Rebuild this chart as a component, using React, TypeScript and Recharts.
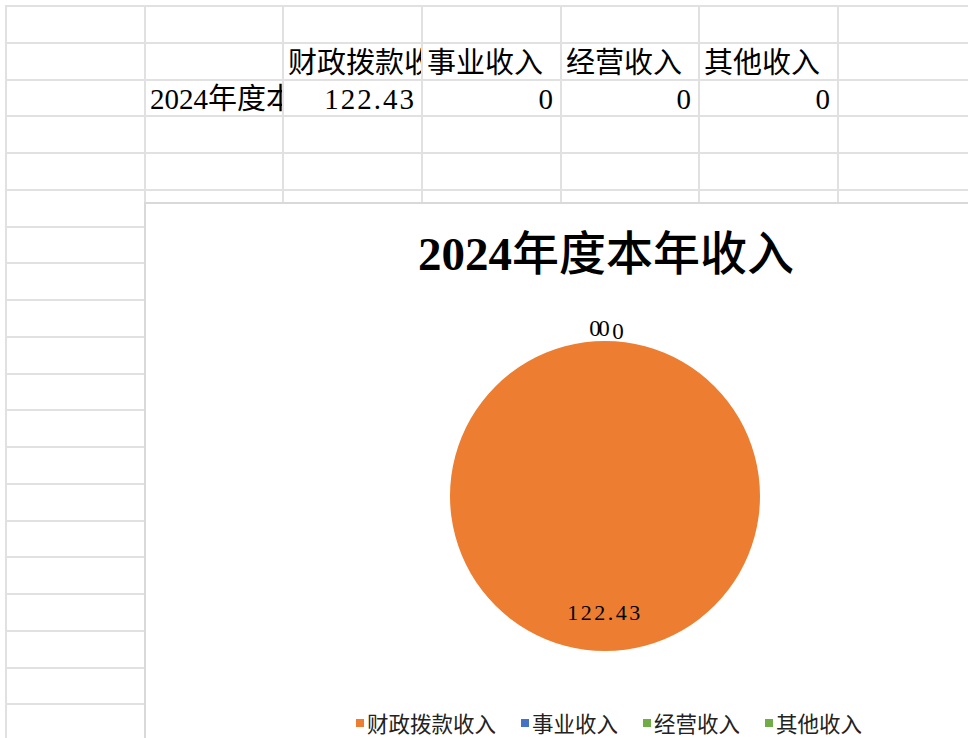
import React from "react"
import { PieChart, Pie, Cell } from "recharts"

const chartTitle = "2024年度本年收入"
const rowLabel = "2024年度本年收入"
const categories = ["财政拨款收入", "事业收入", "经营收入", "其他收入"]
const values = [122.43, 0, 0, 0]
const colors = ["#ED7D31", "#4472C4", "#70AD47", "#70AD47"]

const colX = [6, 145, 283, 422, 561, 699, 838, 977]
const rowH = 36.75
const rowCount = 20

const SERIF = '"Liberation Serif", "Noto Sans CJK SC", serif'
const RAD = Math.PI / 180

const pieData = categories.map((name, i) => ({ name, value: values[i] }))

function SliceLabel(props: any) {
  const { cx, cy, midAngle, outerRadius, value, index } = props
  if (value > 0) {
    const r = outerRadius * 0.75
    const x = cx + r * Math.cos(-midAngle * RAD)
    const y = cy + r * Math.sin(-midAngle * RAD)
    return (
      <text x={x} y={y} textAnchor="middle" dominantBaseline="central" fontSize={22} letterSpacing={2.5} fontFamily={SERIF} fill="#000">
        {value}
      </text>
    )
  }
  const r = outerRadius + 13
  const x = cx + r * Math.cos(-midAngle * RAD) + (index - 2) * 9 + (index === 3 ? 4 : -1)
  const y = cy + r * Math.sin(-midAngle * RAD) + (index === 3 ? 3 : 0)
  return (
    <text x={x} y={y} textAnchor="middle" dominantBaseline="central" fontSize={23} fontFamily={SERIF} fill="#000">
      {value}
    </text>
  )
}

function Sheet() {
  const lines: React.ReactNode[] = []
  colX.forEach((x, i) => {
    lines.push(<div key={"v" + i} style={{ position: "absolute", left: x - 1, top: 5, width: 2, height: 740, background: "#e1e1e1" }} />)
  })
  for (let r = 0; r <= rowCount; r++) {
    lines.push(<div key={"h" + r} style={{ position: "absolute", left: 5, top: 5 + r * rowH, width: 970, height: 2, background: "#e1e1e1" }} />)
  }
  const cell = (col: number, row: number, text: string, align: "left" | "right") => (
    <div
      key={col + "-" + row}
      style={{
        position: "absolute",
        left: colX[col] + 1,
        top: 6 + row * rowH,
        width: colX[col + 1] - colX[col] - 2,
        height: rowH - 1,
        overflow: "hidden",
        whiteSpace: "nowrap",
        display: "flex",
        alignItems: "flex-end",
        justifyContent: align === "left" ? "flex-start" : "flex-end",
        fontFamily: SERIF,
        fontSize: 29,
        lineHeight: "32px",
        letterSpacing: align === "right" ? 2 : 0,
        padding: align === "left" ? "0 0 0 4px" : "0 5px 0 0",
        boxSizing: "border-box",
        color: "#000",
      }}
    >
      {text}
    </div>
  )
  const texts: React.ReactNode[] = []
  categories.forEach((c, i) => texts.push(cell(2 + i, 1, c, "left")))
  texts.push(cell(1, 2, rowLabel, "left"))
  values.forEach((v, i) => texts.push(cell(2 + i, 2, String(v), "right")))
  return (
    <>
      {lines}
      {texts}
    </>
  )
}

// digits in bold serif, CJK in medium weight
function Title({ text }: { text: string }) {
  const parts = text.split(/(\d+)/).filter(Boolean)
  return (
    <>
      {parts.map((p, i) => (
        <span key={i} style={{ fontWeight: /\d/.test(p) ? 700 : 500 }}>
          {p}
        </span>
      ))}
    </>
  )
}

export default function App() {
  return (
    <div style={{ position: "absolute", left: 0, top: 0, width: 968, height: 738, overflow: "hidden", background: "#fff" }}>
      <Sheet />
      <div
        style={{
          position: "absolute",
          left: 144,
          top: 202,
          width: 830,
          height: 540,
          background: "#fff",
          borderLeft: "2px solid #d9d9d9",
          borderTop: "2px solid #d9d9d9",
        }}
      >
        <div
          style={{
            position: "absolute",
            left: 0,
            top: 24,
            width: 920,
            textAlign: "center",
            fontFamily: SERIF,
            fontSize: 47,
            lineHeight: "52px",
            color: "#000",
          }}
        >
          <Title text={chartTitle} />
        </div>
        <div style={{ position: "absolute", left: 0, top: 0 }}>
          <PieChart width={823} height={535}>
            <Pie
              data={pieData}
              dataKey="value"
              nameKey="name"
              cx={454}
              cy={287}
              outerRadius={155}
              startAngle={90}
              endAngle={-270}
              stroke="none"
              labelLine={false}
              label={SliceLabel}
              isAnimationActive={false}
            >
              {pieData.map((d, i) => (
                <Cell key={d.name} fill={colors[i]} />
              ))}
            </Pie>
          </PieChart>
        </div>
        <div
          style={{
            position: "absolute",
            left: 210,
            top: 503,
            display: "flex",
            alignItems: "center",
            fontFamily: SERIF,
            fontSize: 21.5,
            color: "#222",
          }}
        >
          {categories.map((c, i) => (
            <div key={c} style={{ display: "flex", alignItems: "center", marginRight: 25 }}>
              <span style={{ display: "inline-block", width: 8, height: 8, background: colors[i], marginRight: 3 }} />
              <span>{c}</span>
            </div>
          ))}
        </div>
      </div>
    </div>
  )
}
